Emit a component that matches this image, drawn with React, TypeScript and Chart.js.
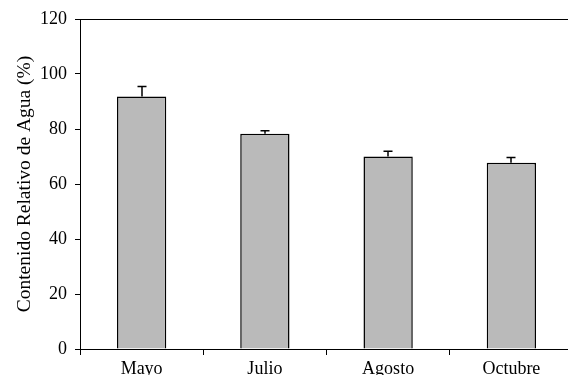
import React, { useEffect, useRef } from "react";
import { Chart, registerables } from "chart.js";

Chart.register(...registerables);

const categories = ["Mayo", "Julio", "Agosto", "Octubre"];
const values = [91.8, 78.3, 70.0, 67.7];
const errors = [3.7, 1.1, 1.9, 1.9];
const yMin = 0;
const yMax = 120;
const yStep = 20;

const FONT = "'Liberation Serif', 'Times New Roman', serif";

const errorBarPlugin = {
  id: "errorBars",
  afterDatasetsDraw(chart: any) {
    const ctx = chart.ctx;
    const meta = chart.getDatasetMeta(0);
    const y = chart.scales.y;
    ctx.save();
    ctx.strokeStyle = "#000";
    ctx.lineWidth = 1.5;
    meta.data.forEach((bar: any, i: number) => {
      const x = Math.round(bar.x);
      const top = y.getPixelForValue(values[i]);
      const tip = y.getPixelForValue(values[i] + errors[i]);
      ctx.beginPath();
      ctx.moveTo(x, top);
      ctx.lineTo(x, tip);
      ctx.moveTo(x - 4.5, tip);
      ctx.lineTo(x + 4.5, tip);
      ctx.stroke();
    });
    const a = chart.chartArea;
    ctx.lineWidth = 1;
    ctx.beginPath();
    ctx.moveTo(a.left, Math.round(a.top) + 0.5);
    ctx.lineTo(a.right, Math.round(a.top) + 0.5);
    ctx.stroke();
    ctx.restore();
  },
};

export default function App() {
  const ref = useRef<HTMLCanvasElement | null>(null);

  useEffect(() => {
    if (!ref.current) return;
    const chart = new Chart(ref.current, {
      type: "bar",
      data: {
        labels: categories,
        datasets: [
          {
            data: values,
            backgroundColor: "#bababa",
            borderColor: "#000",
            borderWidth: 1.5,
            categoryPercentage: 1,
            barPercentage: 0.4,
          },
        ],
      },
      options: {
        animation: false,
        responsive: false,
        devicePixelRatio: 1,
        layout: { padding: { top: 19, right: 3, left: 0, bottom: 0 } },
        plugins: { legend: { display: false }, tooltip: { enabled: false } },
        scales: {
          x: {
            offset: true,
            grid: {
              offset: true,
              drawOnChartArea: false,
              drawTicks: true,
              tickLength: 6,
              color: "#000",
              lineWidth: 1,
            },
            border: { display: true, color: "#000", width: 1 },
            ticks: {
              color: "#000",
              padding: 3,
              font: { family: FONT, size: 18 },
              maxRotation: 0,
            },
            afterFit: (scale: any) => {
              scale.height = 26;
            },
          },
          y: {
            min: yMin,
            max: yMax,
            grid: {
              drawOnChartArea: false,
              drawTicks: true,
              tickLength: 5,
              color: "#000",
              lineWidth: 1,
            },
            border: { display: true, color: "#000", width: 1 },
            ticks: {
              stepSize: yStep,
              color: "#000",
              padding: 8,
              font: { family: FONT, size: 18 },
            },
            title: {
              display: true,
              text: "Contenido Relativo de Agua (%)",
              color: "#000",
              font: { family: FONT, size: 19.5 },
              padding: { top: 13, bottom: 0 },
            },
            afterFit: (scale: any) => {
              scale.width = 80;
            },
          },
        },
      },
      plugins: [errorBarPlugin],
    });
    return () => chart.destroy();
  }, []);

  return (
    <canvas
      ref={ref}
      width={576}
      height={375}
      style={{ position: "fixed", left: 0, top: 0, width: 576, height: 375 }}
    />
  );
}
